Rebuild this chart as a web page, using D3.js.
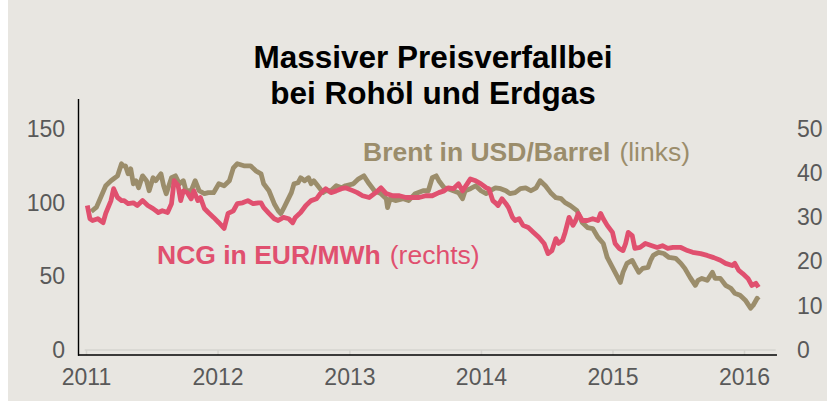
<!DOCTYPE html>
<html>
<head>
<meta charset="utf-8">
<script src="https://cdn.jsdelivr.net/npm/d3@7"></script>
<style>
    body { margin: 0; background: #ffffff; }
    text { font-family: "Liberation Sans", Arial, sans-serif; }
</style>
</head>
<body>
<div id="chart"></div>
<script>
// Brent in USD/Barrel (left axis), time as decimal years
const brentT = [2011.04, 2011.08, 2011.15, 2011.19, 2011.21, 2011.24, 2011.27, 2011.28, 2011.30, 2011.32,
    2011.34, 2011.36, 2011.38, 2011.40, 2011.43, 2011.46, 2011.48, 2011.51, 2011.53, 2011.57,
    2011.59, 2011.61, 2011.65, 2011.68, 2011.71, 2011.74, 2011.76, 2011.80, 2011.83, 2011.86,
    2011.90, 2011.93, 2011.97, 2012.01, 2012.05, 2012.09, 2012.12, 2012.15, 2012.20, 2012.25,
    2012.29, 2012.33, 2012.35, 2012.39, 2012.43, 2012.46, 2012.48, 2012.50, 2012.53, 2012.56,
    2012.58, 2012.61, 2012.63, 2012.66, 2012.69, 2012.71, 2012.73, 2012.76, 2012.80, 2012.82,
    2012.86, 2012.90, 2012.94, 2012.97, 2013.03, 2013.07, 2013.11, 2013.15, 2013.19, 2013.24,
    2013.28, 2013.29, 2013.31, 2013.35, 2013.41, 2013.45, 2013.50, 2013.56, 2013.60, 2013.63,
    2013.66, 2013.68, 2013.72, 2013.75, 2013.79, 2013.83, 2013.86, 2013.88, 2013.92, 2013.96,
    2014.00, 2014.04, 2014.07, 2014.11, 2014.15, 2014.19, 2014.22, 2014.26, 2014.30, 2014.34,
    2014.38, 2014.42, 2014.45, 2014.49, 2014.53, 2014.57, 2014.61, 2014.64, 2014.68, 2014.73,
    2014.77, 2014.81, 2014.85, 2014.89, 2014.93, 2014.96, 2015.00, 2015.04, 2015.06, 2015.08,
    2015.11, 2015.15, 2015.17, 2015.20, 2015.23, 2015.27, 2015.29, 2015.31, 2015.35, 2015.39,
    2015.43, 2015.48, 2015.52, 2015.55, 2015.59, 2015.63, 2015.65, 2015.68, 2015.72, 2015.76,
    2015.78, 2015.82, 2015.86, 2015.90, 2015.93, 2015.97, 2016.01, 2016.05, 2016.07, 2016.10,
    2016.11];
const brentV = [94, 97, 111.5, 114.9, 116.2, 118.2, 126.4, 125, 125, 119.6,
    123, 112.8, 114.9, 110.1, 118.2, 114.9, 108.1, 116.9, 114.9, 119.6,
    111.5, 106.1, 116.9, 118.2, 112.8, 114.9, 108.1, 108.1, 114.9, 108.1,
    106.1, 106.8, 106.8, 112.8, 111.5, 114.9, 123.6, 126.4, 125, 125,
    121.6, 119.6, 112.8, 108.1, 99.3, 94.6, 92.6, 95.9, 101.4, 106.8,
    112.8, 113.5, 116.9, 114.9, 116.9, 112.8, 114.9, 111.5, 106.8, 108.1,
    108.1, 111.5, 110.1, 111.5, 112.8, 116.2, 118.2, 112.8, 108.1, 106.1,
    102.7, 96.6, 102.7, 101.4, 102.7, 101.4, 106.1, 108.1, 108.1, 116.9,
    118.2, 114.9, 110.1, 109.5, 108.1, 106.8, 102.7, 108.1, 109.5, 111.5,
    108.1, 106.1, 108.1, 110.1, 109.5, 108.1, 106.1, 106.8, 109.5, 110.1,
    108.1, 110.1, 114.9, 111.5, 106.8, 103.4, 102.7, 100, 98, 94.6,
    86.5, 83.1, 82.4, 76.4, 72.3, 62.8, 56.1, 49.3, 45.9, 52.7,
    58.8, 60.8, 57.4, 52.7, 55.4, 56.1, 60.8, 64.2, 66.2, 65.5,
    62.8, 62.2, 58.8, 55.4, 49.3, 43.9, 47.3, 48.6, 47.3, 52.7,
    48.6, 48.6, 43.9, 41.9, 38.5, 37.2, 33.8, 28.4, 30.4, 35.1,
    33.8];

// NCG in EUR/MWh (right axis)
const ncgT = [2011.01, 2011.03, 2011.05, 2011.09, 2011.13, 2011.15, 2011.19, 2011.21, 2011.24, 2011.27,
    2011.29, 2011.32, 2011.36, 2011.39, 2011.43, 2011.47, 2011.51, 2011.55, 2011.58, 2011.62,
    2011.65, 2011.67, 2011.70, 2011.72, 2011.74, 2011.77, 2011.80, 2011.82, 2011.85, 2011.87,
    2011.90, 2011.93, 2011.97, 2012.01, 2012.05, 2012.08, 2012.12, 2012.15, 2012.19, 2012.23,
    2012.27, 2012.31, 2012.33, 2012.35, 2012.39, 2012.43, 2012.46, 2012.50, 2012.54, 2012.57,
    2012.59, 2012.63, 2012.67, 2012.71, 2012.75, 2012.78, 2012.82, 2012.86, 2012.90, 2012.94,
    2012.97, 2013.03, 2013.06, 2013.10, 2013.15, 2013.20, 2013.24, 2013.28, 2013.33, 2013.38,
    2013.43, 2013.48, 2013.53, 2013.58, 2013.63, 2013.68, 2013.72, 2013.75, 2013.79, 2013.83,
    2013.86, 2013.90, 2013.92, 2013.96, 2014.00, 2014.04, 2014.06, 2014.09, 2014.11, 2014.13,
    2014.16, 2014.19, 2014.21, 2014.24, 2014.26, 2014.29, 2014.32, 2014.36, 2014.40, 2014.44,
    2014.48, 2014.51, 2014.54, 2014.57, 2014.59, 2014.62, 2014.64, 2014.67, 2014.70, 2014.72,
    2014.74, 2014.77, 2014.81, 2014.85, 2014.89, 2014.91, 2014.93, 2014.96, 2015.00, 2015.02,
    2015.05, 2015.08, 2015.10, 2015.12, 2015.15, 2015.17, 2015.21, 2015.25, 2015.30, 2015.34,
    2015.38, 2015.42, 2015.46, 2015.52, 2015.57, 2015.61, 2015.67, 2015.72, 2015.77, 2015.82,
    2015.86, 2015.91, 2015.93, 2015.96, 2015.99, 2016.03, 2016.06, 2016.09, 2016.11];
const ncgV = [32.7, 29.7, 29.3, 29.7, 28.8, 30.9, 33.8, 36.5, 34.5, 33.8,
    33.8, 33.1, 33.3, 32.7, 33.8, 32.7, 32.0, 31.1, 31.5, 31.1,
    33.1, 38.3, 37.2, 33.8, 36.0, 35.6, 34.2, 36.0, 33.8, 34.5,
    32.0, 31.1, 30.0, 28.8, 27.5, 30.9, 31.5, 33.1, 33.3, 33.8,
    33.1, 33.3, 33.3, 32.2, 30.9, 29.7, 29.3, 30.0, 29.7, 28.8,
    30.0, 31.1, 32.7, 33.8, 34.2, 35.4, 36.5, 35.6, 36.0, 36.5,
    36.7, 36.0, 35.6, 34.9, 34.5, 35.6, 36.7, 35.4, 34.9, 34.9,
    34.5, 34.5, 34.5, 34.9, 34.9, 35.6, 36.0, 36.7, 36.5, 37.6,
    36.0, 37.8, 38.7, 38.3, 37.6, 36.7, 36.5, 33.8, 33.3, 32.7,
    34.2, 33.1, 32.2, 30.0, 29.3, 29.7, 28.2, 27.7, 26.6, 25.5,
    24.1, 21.8, 22.5, 25.2, 24.1, 24.8, 26.6, 30.0, 28.2, 29.3,
    30.9, 29.3, 29.3, 29.7, 29.3, 30.9, 29.7, 28.2, 26.6, 24.1,
    23.0, 22.5, 24.1, 26.6, 25.9, 23.0, 23.2, 24.1, 23.6, 23.2,
    23.6, 23.0, 23.2, 23.2, 22.5, 22.1, 21.8, 21.4, 20.9, 20.3,
    19.6, 19.1, 19.6, 18.0, 17.3, 16.2, 14.6, 15.1, 14.2];

const leftTicks = [0, 50, 100, 150];
const rightTicks = [0, 10, 20, 30, 40, 50];
const titleLines = ["Massiver Preisverfallbei", "bei Rohöl und Erdgas"];

const W = 827, H = 401;
const brentColor = "#9b8d6b", ncgColor = "#e0506f";

// decimal year -> Date
function toDate(t) {
    const y = Math.floor(t);
    const a = Date.UTC(y, 0, 1), b = Date.UTC(y + 1, 0, 1);
    return new Date(a + (t - y) * (b - a));
}

const brent = brentT.map((t, i) => ({ date: toDate(t), value: brentV[i] }));
const ncg = ncgT.map((t, i) => ({ date: toDate(t), value: ncgV[i] }));

const svg = d3.select("#chart").append("svg")
    .attr("width", W)
    .attr("height", H);

svg.append("rect").attr("x", 8).attr("y", 0).attr("width", W - 8).attr("height", H)
    .attr("fill", "#e8e6e1");

// Scales
const x = d3.scaleUtc().domain([toDate(2011), toDate(2016)]).range([86, 744]);
const yL = d3.scaleLinear().domain([0, 150]).range([350, 129]);
const yR = d3.scaleLinear().domain([0, 50]).range([350, 129]);

// Light baseline with year ticks
const xAxis = svg.append("g")
    .attr("transform", "translate(0,350)")
    .call(d3.axisBottom(x)
        .tickValues(d3.range(2011, 2017).map(toDate))
        .tickFormat(d3.utcFormat("%Y"))
        .tickSize(5)
        .tickPadding(14));
xAxis.select(".domain").remove();
xAxis.selectAll(".tick line").attr("stroke", "#d6d4cf").attr("stroke-width", 1.5);
xAxis.selectAll(".tick text").attr("fill", "#595959").style("font-size", "23px");
xAxis.append("line")
    .attr("x1", x(toDate(2010.99))).attr("x2", x(toDate(2016.24)))
    .attr("stroke", "#d6d4cf").attr("stroke-width", 1.5);

// Black frame lines (left + bottom)
svg.append("line")
    .attr("x1", 78).attr("x2", x(toDate(2016.25)))
    .attr("y1", 355).attr("y2", 355)
    .attr("stroke", "#000").attr("stroke-width", 1.6);
svg.append("line")
    .attr("x1", 78.5).attr("x2", 78.5)
    .attr("y1", 99).attr("y2", 355.8)
    .attr("stroke", "#000").attr("stroke-width", 1.4);

// Left axis
const left = svg.append("g")
    .attr("transform", "translate(78,0)")
    .call(d3.axisLeft(yL).tickValues(leftTicks).tickSize(0).tickPadding(13));
left.select(".domain").remove();
left.selectAll("text").attr("fill", "#595959").style("font-size", "23px");

// Right axis
const right = svg.append("g")
    .attr("transform", "translate(797,0)")
    .call(d3.axisRight(yR).tickValues(rightTicks).tickSize(0).tickPadding(0));
right.select(".domain").remove();
right.selectAll("text").attr("fill", "#595959").style("font-size", "23px");

// Lines
const lineL = d3.line().x(d => x(d.date)).y(d => yL(d.value));
const lineR = d3.line().x(d => x(d.date)).y(d => yR(d.value));

svg.append("path").datum(brent)
    .attr("d", lineL)
    .attr("fill", "none")
    .attr("stroke", brentColor)
    .attr("stroke-width", 4.8)
    .attr("stroke-linejoin", "round");

svg.append("path").datum(ncg)
    .attr("d", lineR)
    .attr("fill", "none")
    .attr("stroke", ncgColor)
    .attr("stroke-width", 4.8)
    .attr("stroke-linejoin", "round");

// Title
svg.append("text")
    .attr("x", 433).attr("y", 68)
    .attr("text-anchor", "middle")
    .style("font-size", "31.5px").style("font-weight", "bold")
    .selectAll("tspan").data(titleLines).enter().append("tspan")
    .attr("x", 433)
    .attr("y", (d, i) => 68 + i * 36)
    .text(d => d);

// Series labels
const bl = svg.append("text").attr("x", 363).attr("y", 161)
    .attr("fill", brentColor).style("font-size", "26.5px");
bl.append("tspan").style("font-weight", "bold").text("Brent in USD/Barrel");
bl.append("tspan").attr("dx", 9).text("(links)");

const nl = svg.append("text").attr("x", 157).attr("y", 264)
    .attr("fill", ncgColor).style("font-size", "26.5px");
nl.append("tspan").style("font-weight", "bold").text("NCG in EUR/MWh");
nl.append("tspan").attr("dx", 9).text("(rechts)");
</script>
</body>
</html>
